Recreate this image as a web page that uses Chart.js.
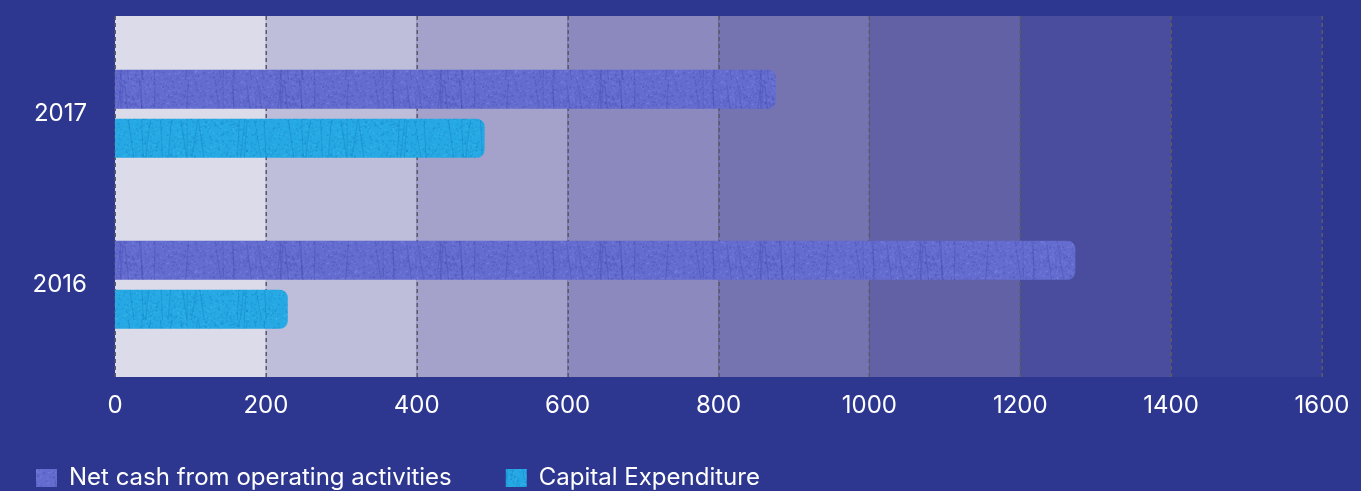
<!DOCTYPE html>
<html>
<head>
<meta charset="utf-8">
<script src="https://cdn.jsdelivr.net/npm/chart.js@4.4.1/dist/chart.umd.min.js"></script>
<style>
  html, body { margin: 0; padding: 0; background: #2d378f; overflow: hidden; }
  #wrap { position: relative; width: 1361px; height: 506px; }
</style>
</head>
<body>
<div id="wrap"><canvas id="c"></canvas></div>
<script>
// ---- data ----
const categories = ['2017', '2016'];
const netCashValues = [876, 1273];
const capexValues = [490, 229];
const seriesNames = ['Net cash from operating activities', 'Capital Expenditure'];
const xMin = 0, xMax = 1600, xStep = 200;

// ---- style ----
const bgColor = '#2d378f';
const bandColors = ['#dcdbea', '#bebdda', '#a4a2cb', '#8b89bd', '#7674b0', '#6261a6', '#4a4d9d', '#333e94'];
const fontFamily = 'Inter';
const fontSize = 24;

function hash(i) { const x = Math.sin(i * 12.9898 + 78.233) * 43758.5453; return x - Math.floor(x); }

function makeTexture(base, dark, light, seed) {
  const w = 160, h = 40;
  const c = document.createElement('canvas');
  c.width = w; c.height = h;
  const g = c.getContext('2d');
  g.fillStyle = base; g.fillRect(0, 0, w, h);
  for (let i = 0; i < 900; i++) {
    const x = hash(seed + i * 3) * w, y = hash(seed + i * 3 + 1) * h;
    g.fillStyle = hash(seed + i * 3 + 2) > 0.5 ? light : dark;
    g.globalAlpha = 0.28;
    g.fillRect(x, y, 1.5, 1.5);
  }
  g.globalAlpha = 0.35;
  g.strokeStyle = dark; g.lineWidth = 1;
  for (let i = 0; i < 14; i++) {
    const x = hash(seed + 500 + i) * w;
    const slant = (hash(seed + 700 + i) - 0.5) * 14;
    g.beginPath(); g.moveTo(x, 0); g.lineTo(x + slant, h); g.stroke();
  }
  g.globalAlpha = 1;
  return c;
}

const ctx = document.getElementById('c').getContext('2d');
const netTex = ctx.createPattern(makeTexture('#646ccf', '#3f47a8', '#8c94ec', 11), 'repeat');
const capTex = ctx.createPattern(makeTexture('#25a8e4', '#1279b8', '#4cc4f4', 37), 'repeat');

const bandsPlugin = {
  id: 'bands',
  afterLayout(chart) {
    if (chart.legend) { chart.legend.left -= 18; chart.legend.top -= 6; }
  },
  beforeDraw(chart) {
    const c = chart.ctx;
    c.save();
    c.fillStyle = bgColor;
    c.fillRect(0, 0, chart.width, chart.height);
    c.restore();
  },
  beforeDatasetsDraw(chart) {
    const c = chart.ctx, xs = chart.scales.x, area = chart.chartArea;
    const top = area.top - 12.2, bottom = area.bottom + 6.7;
    c.save();
    for (let i = 0; i < bandColors.length; i++) {
      const x0 = xs.getPixelForValue(xMin + i * xStep);
      const x1 = xs.getPixelForValue(xMin + (i + 1) * xStep);
      c.fillStyle = bandColors[i];
      c.fillRect(x0, top, x1 - x0, bottom - top);
    }
    c.strokeStyle = '#5d5a68';
    c.lineWidth = 1.5;
    c.setLineDash([4, 3]);
    for (let v = xMin; v <= xMax; v += xStep) {
      const x = Math.round(xs.getPixelForValue(v)) + 0.25;
      c.beginPath(); c.moveTo(x, top); c.lineTo(x, bottom); c.stroke();
    }
    c.restore();
  }
};

new Chart(ctx, {
  type: 'bar',
  data: {
    labels: categories,
    datasets: [
      { label: seriesNames[0], data: netCashValues, backgroundColor: netTex, borderRadius: 8, borderSkipped: 'start' },
      { label: seriesNames[1], data: capexValues, backgroundColor: capTex, borderRadius: 8, borderSkipped: 'start' }
    ]
  },
  options: {
    indexAxis: 'y',
    responsive: true,
    maintainAspectRatio: false,
    animation: false,
    categoryPercentage: 0.573,
    barPercentage: 0.796,
    layout: { padding: { top: 28.2, right: 39, bottom: 0, left: 0 } },
    scales: {
      x: {
        min: xMin, max: xMax,
        grid: { display: false, drawTicks: false },
        border: { display: false },
        ticks: { stepSize: xStep, color: '#ffffff', padding: 21, font: { family: fontFamily, size: fontSize },
                 callback: (v) => String(v) },
        afterFit(s) { s.height = 47.7; s.paddingLeft = 0; s.paddingRight = 0; }
      },
      y: {
        grid: { display: false, drawTicks: false },
        border: { display: false },
        ticks: { color: '#ffffff', padding: 28, font: { family: fontFamily, size: fontSize } },
        afterFit(s) { s.width = 115; s.paddingTop = 0; s.paddingBottom = 0; }
      }
    },
    plugins: {
      legend: {
        position: 'bottom',
        align: 'start',
        labels: { color: '#ffffff', boxWidth: 21, boxHeight: 18, padding: 54, font: { family: fontFamily, size: fontSize } }
      },
      tooltip: { enabled: false }
    }
  },
  plugins: [bandsPlugin]
});
</script>
</body>
</html>
